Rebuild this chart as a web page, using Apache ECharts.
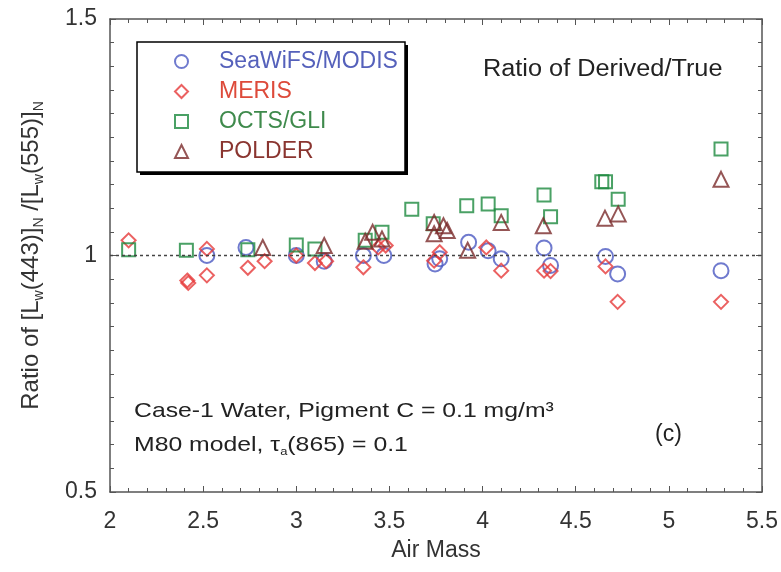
<!DOCTYPE html>
<html>
<head>
<meta charset="utf-8">
<script src="https://cdn.jsdelivr.net/npm/echarts@6/dist/echarts.min.js"></script>
<style>
  html, body { margin: 0; padding: 0; background: #fff; }
  #chart { width: 781px; height: 572px; }
</style>
</head>
<body>
<div id="chart"></div>
<script>
// values: [air mass, ratio]
const seawifs = [
  [2.52, 1.0], [2.73, 1.017], [3.0, 1.0], [3.15, 0.988], [3.36, 1.0], [3.47, 1.0],
  [3.745, 0.982], [3.77, 0.993], [3.925, 1.028], [4.03, 1.01], [4.1, 0.993],
  [4.33, 1.016], [4.365, 0.979], [4.66, 0.998], [4.725, 0.961], [5.28, 0.968]
];
const meris = [
  [2.1, 1.032], [2.415, 0.947], [2.42, 0.942], [2.52, 1.014], [2.52, 0.958],
  [2.74, 0.974], [2.83, 0.988], [3.0, 1.0], [3.1, 0.984], [3.16, 0.988],
  [3.36, 0.975], [3.44, 1.017], [3.48, 1.021], [3.74, 0.989], [3.77, 1.007],
  [4.02, 1.017], [4.1, 0.968], [4.33, 0.968], [4.365, 0.967], [4.66, 0.977],
  [4.725, 0.902], [5.28, 0.902]
];
const octs = [
  [2.1, 1.012], [2.41, 1.011], [2.74, 1.012], [3.0, 1.022], [3.1, 1.014],
  [3.37, 1.032], [3.46, 1.049], [3.62, 1.098], [3.735, 1.067], [3.915, 1.105],
  [4.03, 1.109], [4.1, 1.084], [4.33, 1.128], [4.365, 1.082], [4.64, 1.156],
  [4.66, 1.156], [4.728, 1.119], [5.28, 1.225]
];
const polder = [
  [2.82, 1.017], [3.15, 1.021], [3.37, 1.03], [3.41, 1.049], [3.46, 1.035],
  [3.74, 1.07], [3.74, 1.046], [3.79, 1.063], [3.81, 1.053], [3.92, 1.011],
  [4.1, 1.07], [4.326, 1.063], [4.657, 1.079], [4.728, 1.088], [5.28, 1.161]
];
const seriesNames = ['SeaWiFS/MODIS', 'MERIS', 'OCTS/GLI', 'POLDER'];

const FONT = '"Liberation Sans", Arial, sans-serif';
const axisColor = '#555';

let chart = echarts.init(document.getElementById('chart'));

function openMarker(name, data, symbol, size, color) {
  return {
    name: name,
    type: 'scatter',
    data: data,
    symbol: symbol,
    symbolSize: size,
    z: 3,
    itemStyle: { color: 'rgba(255,255,255,0)', borderColor: color, borderWidth: 2 }
  };
}

function mirrorAxis(type, pos, min, max) {
  return {
    type: 'value', position: pos, min: min, max: max, interval: 0.5,
    axisLine: { show: true, lineStyle: { color: axisColor, width: 1.5 } },
    axisTick: { show: true, inside: true, length: 6, lineStyle: { color: axisColor } },
    minorTick: { show: true, splitNumber: type === 'x' ? 5 : 10, length: 4, lineStyle: { color: axisColor } },
    axisLabel: { show: false },
    splitLine: { show: false }
  };
}

chart.setOption({
  animation: false,
  grid: { left: 110, right: 19, top: 19, bottom: 80 },
  xAxis: [
    {
      type: 'value', min: 2, max: 5.5, interval: 0.5,
      name: 'Air Mass', nameLocation: 'middle', nameGap: 47,
      nameTextStyle: { fontFamily: FONT, fontSize: 23, color: '#333' },
      axisLine: { show: true, lineStyle: { color: axisColor, width: 1.5 } },
      axisTick: { show: true, inside: true, length: 6, lineStyle: { color: axisColor } },
      minorTick: { show: true, splitNumber: 5, length: 4, lineStyle: { color: axisColor } },
      axisLabel: { fontFamily: FONT, fontSize: 23, color: '#333', margin: 18 },
      splitLine: { show: false }
    },
    mirrorAxis('x', 'top', 2, 5.5)
  ],
  yAxis: [
    {
      type: 'value', min: 0.5, max: 1.5, interval: 0.5,
      name: '{n|Ratio of [L}{s|w}{n|(443)]}{s|N}{n| /[L}{s|w}{n|(555)]}{s|N}',
      nameLocation: 'middle', nameGap: 64,
      nameTextStyle: {
        fontFamily: FONT, fontSize: 24, color: '#333',
        rich: {
          n: { fontFamily: FONT, fontSize: 24, color: '#333' },
          s: { fontFamily: FONT, fontSize: 14, color: '#333', padding: [15, 0, 0, 0] }
        }
      },
      axisLine: { show: true, lineStyle: { color: axisColor, width: 1.5 } },
      axisTick: { show: true, inside: true, length: 6, lineStyle: { color: axisColor } },
      minorTick: { show: true, splitNumber: 10, length: 4, lineStyle: { color: axisColor } },
      axisLabel: { fontFamily: FONT, fontSize: 23, color: '#333', margin: 13 },
      splitLine: { show: false }
    },
    mirrorAxis('y', 'right', 0.5, 1.5)
  ],
  legend: {
    orient: 'vertical',
    left: 174, top: 50,
    padding: 0,
    itemGap: 7,
    itemWidth: 13, itemHeight: 13,
    z: 6,
    textStyle: { fontFamily: FONT, fontSize: 23, padding: [0, 0, 0, 26] },
    data: [
      { name: 'SeaWiFS/MODIS', textStyle: { color: '#5561bb' } },
      { name: 'MERIS', textStyle: { color: '#dd4a3a' } },
      { name: 'OCTS/GLI', textStyle: { color: '#3f8a4c' } },
      { name: 'POLDER', textStyle: { color: '#8a3530' } }
    ]
  },
  graphic: [
    { type: 'rect', z: 4, shape: { x: 140, y: 45, width: 268, height: 130 }, style: { fill: '#000' } },
    { type: 'rect', z: 5, shape: { x: 137, y: 42, width: 268, height: 130 },
      style: { fill: '#fff', stroke: '#000', lineWidth: 1.5 } },
    { type: 'text', x: 483, y: 58, scaleX: 1.1, z: 5,
      style: { text: 'Ratio of Derived/True', font: '23px ' + FONT, fill: '#222' } },
    { type: 'text', x: 134, y: 401, scaleX: 1.18, z: 5,
      style: { text: 'Case-1 Water, Pigment C = 0.1 mg/m³', font: '21px ' + FONT, fill: '#222' } },
    { type: 'text', x: 134, y: 433, scaleX: 1.18, z: 5,
      style: {
        text: '{n|M80 model, τ}{s|a}{n|(865) = 0.1}',
        rich: {
          n: { font: '21px ' + FONT, fill: '#222' },
          s: { font: '11px ' + FONT, fill: '#222', padding: [13, 0, 0, 0] }
        }
      } },
    { type: 'text', x: 655, y: 423, z: 5,
      style: { text: '(c)', font: '23px ' + FONT, fill: '#222' } }
  ],
  series: [
    Object.assign(openMarker(seriesNames[0], seawifs, 'circle', 15, '#4b59c2'), {
      markLine: {
        silent: true, symbol: ['none', 'none'], label: { show: false },
        lineStyle: { color: '#444', width: 1.3, type: [3, 3] },
        data: [{ yAxis: 1 }]
      }
    }),
    openMarker(seriesNames[1], meris, 'diamond', 14, '#e63a3a'),
    openMarker(seriesNames[2], octs, 'rect', 13, '#1d8a3e'),
    openMarker(seriesNames[3], polder, 'triangle', 15, '#7a2b2b')
  ]
});
</script>
</body>
</html>
